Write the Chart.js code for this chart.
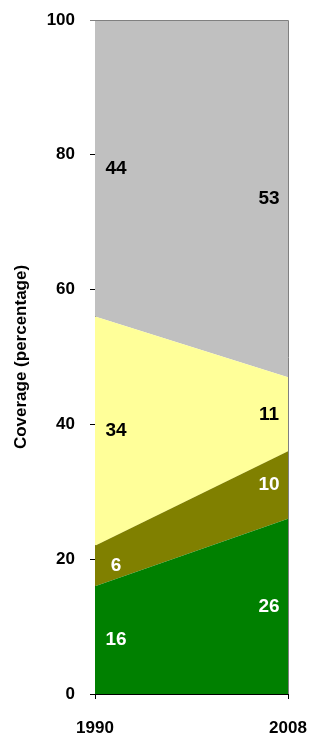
<!DOCTYPE html>
<html>
<head>
<meta charset="utf-8">
<script src="https://cdn.jsdelivr.net/npm/chart.js@4"></script>
<style>
  html, body { margin: 0; padding: 0; background: #fff; overflow: hidden; }
  #wrap { width: 310px; height: 734px; position: relative; }
  canvas { display: block; }
</style>
</head>
<body>
<div id="wrap"><canvas id="chart"></canvas></div>
<script>
const years = ['1990', '2008'];
const green = [16, 26];
const olive = [6, 10];
const yellow = [34, 11];
const gray = [44, 53];
const yTicks = [0, 20, 40, 60, 80, 100];

const font = 'Liberation Sans, Arial, sans-serif';

// write the value of each band inside it, near the edge
const bandLabels = {
  id: 'bandLabels',
  afterDatasetsDraw(chart) {
    const ctx = chart.ctx;
    const x = chart.scales.x, y = chart.scales.y;
    ctx.save();
    ctx.font = 'bold 19px ' + font;
    ctx.textAlign = 'center';
    ctx.textBaseline = 'middle';
    chart.data.datasets.forEach((ds, di) => {
      ds.data.forEach((v, i) => {
        let base = 0;
        for (let k = 0; k < di; k++) base += chart.data.datasets[k].data[i];
        const px = x.getPixelForValue(i) + (i === 0 ? 21 : -19);
        const py = y.getPixelForValue(base + v / 2);
        ctx.fillStyle = ds.labelColor;
        ctx.fillText(String(v), px, py);
      });
    });
    // grey frame on the right and top
    const a = chart.chartArea;
    ctx.strokeStyle = '#808080';
    ctx.lineWidth = 1;
    ctx.beginPath();
    ctx.moveTo(a.left - 5, a.top + 0.5);
    ctx.lineTo(a.right + 0.5, a.top + 0.5);
    ctx.lineTo(a.right + 0.5, a.bottom);
    ctx.stroke();
    ctx.restore();
  }
};

new Chart(document.getElementById('chart'), {
  type: 'line',
  plugins: [bandLabels],
  data: {
    labels: years,
    datasets: [
      { data: green, backgroundColor: '#008000', fill: 'origin', labelColor: '#fff' },
      { data: olive, backgroundColor: '#808000', fill: '-1', labelColor: '#fff' },
      { data: yellow, backgroundColor: '#FFFF99', fill: '-1', labelColor: '#000' },
      { data: gray, backgroundColor: '#C0C0C0', fill: '-1', labelColor: '#000' },
    ].map(d => Object.assign(d, { borderWidth: 0, pointRadius: 0, tension: 0 }))
  },
  options: {
    responsive: true,
    maintainAspectRatio: false,
    animation: false,
    layout: { padding: { top: 20, right: 22, left: 0, bottom: 0 } },
    plugins: {
      legend: { display: false },
      tooltip: { enabled: false },
    },
    scales: {
      x: {
        offset: false,
        afterFit: (s) => { s.height = 40; s.paddingLeft = 0; s.paddingRight = 0; },
        grid: { drawOnChartArea: false, tickLength: 5, color: '#000' },
        border: { color: '#000', width: 1 },
        ticks: { color: '#000', font: { family: font, size: 17, weight: 'bold' }, padding: 19, maxRotation: 0 },
      },
      y: {
        stacked: true,
        min: 0,
        max: 100,
        afterBuildTicks: (s) => { s.ticks = yTicks.map(v => ({ value: v })); },
        afterFit: (s) => { s.width = 95; s.paddingTop = 0; s.paddingBottom = 0; },
        grid: { drawOnChartArea: false, tickLength: 5, color: '#000' },
        border: { color: '#000', width: 1 },
        ticks: { color: '#000', font: { family: font, size: 17, weight: 'bold' }, padding: 15 },
        title: {
          display: true,
          text: 'Coverage (percentage)',
          color: '#000',
          font: { family: font, size: 17, weight: 'bold' },
          padding: { top: 11, bottom: 0 },
        },
      },
    },
  },
});
</script>
</body>
</html>
